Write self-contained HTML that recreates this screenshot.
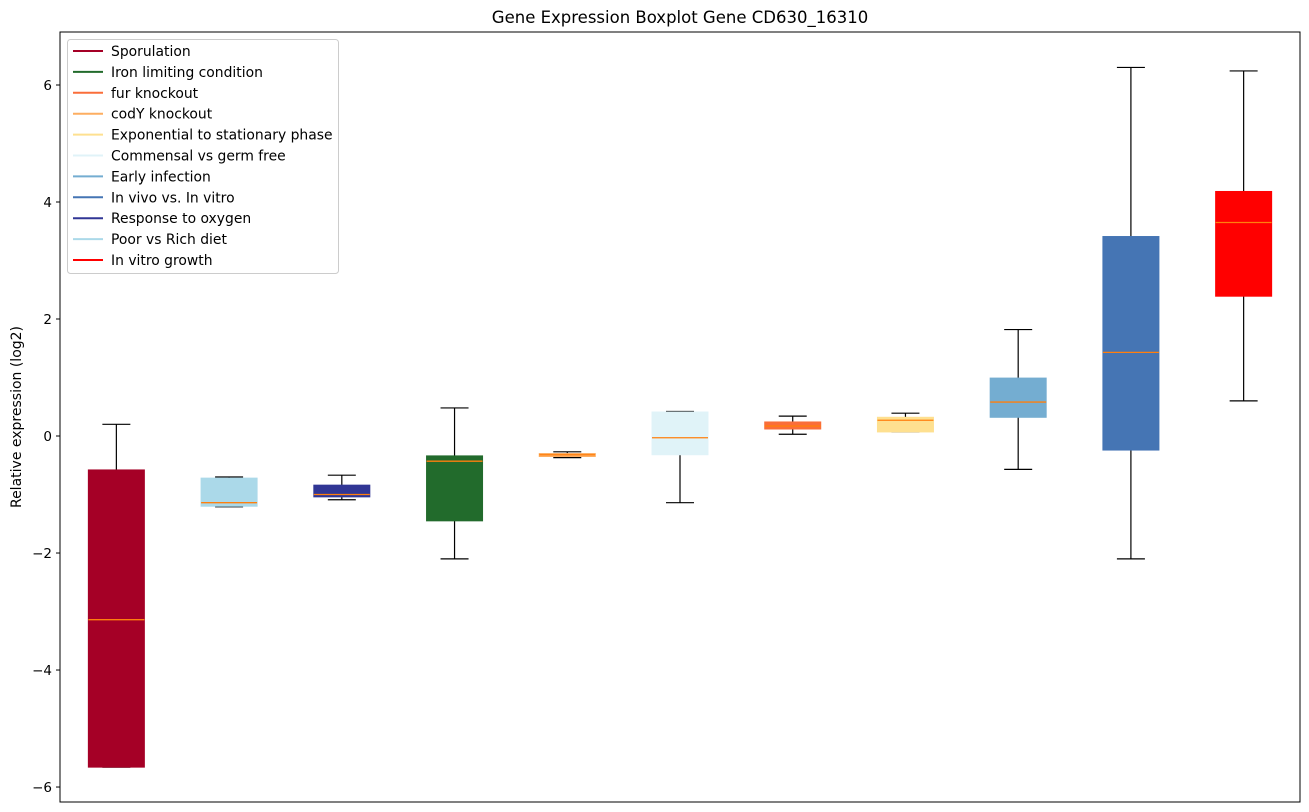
<!DOCTYPE html>
<html><head><meta charset="utf-8"><style>
html,body{margin:0;padding:0;background:#fff;}
svg{display:block;font-family:"DejaVu Sans","Liberation Sans",sans-serif;}
</style></head><body>
<svg id="chart" width="1309" height="812" viewBox="0 0 1309 812" xmlns="http://www.w3.org/2000/svg">
<text x="680" y="23" text-anchor="middle" font-size="16.5">Gene Expression Boxplot Gene CD630_16310</text>
<text x="0" y="0" transform="translate(21,417) rotate(-90)" text-anchor="middle" font-size="14">Relative expression (log2)</text>
<g id="plot"></g>
<g id="yaxis"></g>
<g id="legend"></g>
</svg>
<script>
const categories = ["Sporulation","Poor vs Rich diet","Response to oxygen","Iron limiting condition","codY knockout","Commensal vs germ free","fur knockout","Exponential to stationary phase","Early infection","In vivo vs. In vitro","In vitro growth"];
const whiskerLow = [-5.66,-1.21,-1.09,-2.10,-0.37,-1.14,0.03,0.07,-0.57,-2.10,0.60];
const q1 = [-5.66,-1.20,-1.04,-1.45,-0.35,-0.32,0.12,0.07,0.32,-0.24,2.39];
const median = [-3.14,-1.14,-1.00,-0.43,-0.32,-0.03,0.17,0.27,0.58,1.43,3.65];
const q3 = [-0.58,-0.72,-0.84,-0.34,-0.30,0.41,0.24,0.32,0.99,3.41,4.18];
const whiskerHigh = [0.20,-0.70,-0.67,0.48,-0.27,0.42,0.34,0.39,1.82,6.30,6.24];
const colors = ["#a50026","#abd9e9","#313695","#226b2c","#fdae61","#e0f3f8","#fa6e3a","#fee090","#74add1","#4575b4","#ff0000"];
const legendLabels = ["Sporulation","Iron limiting condition","fur knockout","codY knockout","Exponential to stationary phase","Commensal vs germ free","Early infection","In vivo vs. In vitro","Response to oxygen","Poor vs Rich diet","In vitro growth"];
const legendColors = ["#a50026","#226b2c","#fa6e3a","#fdae61","#fee090","#e0f3f8","#74add1","#4575b4","#313695","#abd9e9","#ff0000"];
const yTicks = [-6,-4,-2,0,2,4,6];
const yTickLabels = ["\u22126","\u22124","\u22122","0","2","4","6"];

const NS="http://www.w3.org/2000/svg";
const L=60,R=1300,T=32,B=802;
const yMin=-6.256,yMax=6.906;
function y(v){return B-(v-yMin)/(yMax-yMin)*(B-T);}
const step=(R-L)/categories.length;
function x(i){return L+step*(i+0.5);}
function mk(tag,attrs,parent){const e=document.createElementNS(NS,tag);for(const k in attrs)e.setAttribute(k,attrs[k]);parent.appendChild(e);return e;}
const plot=document.getElementById('plot');
const bw=56,cw=28;
categories.forEach((c,i)=>{
  const g=mk('g',{},plot);
  
  
  const cx=x(i);
  const s={stroke:'#000','stroke-width':1.2};
  let e=mk('line',Object.assign({x1:cx,x2:cx,y1:y(whiskerHigh[i]),y2:y(q3[i])},s),g);
  
  
  e=mk('line',Object.assign({x1:cx,x2:cx,y1:y(q1[i]),y2:y(whiskerLow[i])},s),g);
  
  
  e=mk('line',Object.assign({x1:cx-cw/2,x2:cx+cw/2,y1:y(whiskerHigh[i]),y2:y(whiskerHigh[i])},s),g);
  
  
  e=mk('line',Object.assign({x1:cx-cw/2,x2:cx+cw/2,y1:y(whiskerLow[i]),y2:y(whiskerLow[i])},s),g);
  
  
  const top=y(q3[i]),bot=y(q1[i]);
  e=mk('rect',{x:cx-bw/2,y:top,width:bw,height:Math.max(bot-top,1),fill:colors[i],stroke:colors[i],'stroke-width':1},g);
  
  
  e=mk('line',{x1:cx-bw/2,x2:cx+bw/2,y1:y(median[i]),y2:y(median[i]),stroke:'#ff7f0e','stroke-width':1.3},g);
  
  
});
const frame=mk('rect',{x:L,y:T,width:R-L,height:B-T,fill:'none',stroke:'#000','stroke-width':1},plot);


const ya=document.getElementById('yaxis');
yTicks.forEach((t,i)=>{
  const yy=y(t);
  const tk=mk('line',{x1:L-4,x2:L,y1:yy,y2:yy,stroke:'#000','stroke-width':1},ya);
  
  
  const tx=mk('text',{x:L-8,y:yy+5,'text-anchor':'end','font-size':13.5},ya);
  tx.textContent=yTickLabels[i];
  
  
});
const lg=document.getElementById('legend');
const box=mk('rect',{x:67.5,y:39.5,width:271,height:234,rx:3,fill:'#fff','fill-opacity':0.85,stroke:'#ccc','stroke-width':1},lg);


legendLabels.forEach((lab,i)=>{
  const yy=51+i*20.9;
  const g=mk('g',{},lg);
  
  
  mk('line',{x1:73,x2:103,y1:yy,y2:yy,stroke:legendColors[i],'stroke-width':2},g);
  const t=mk('text',{x:111,y:yy+5,'font-size':13.9},g);
  t.textContent=lab;
});
</script>
</body></html>
